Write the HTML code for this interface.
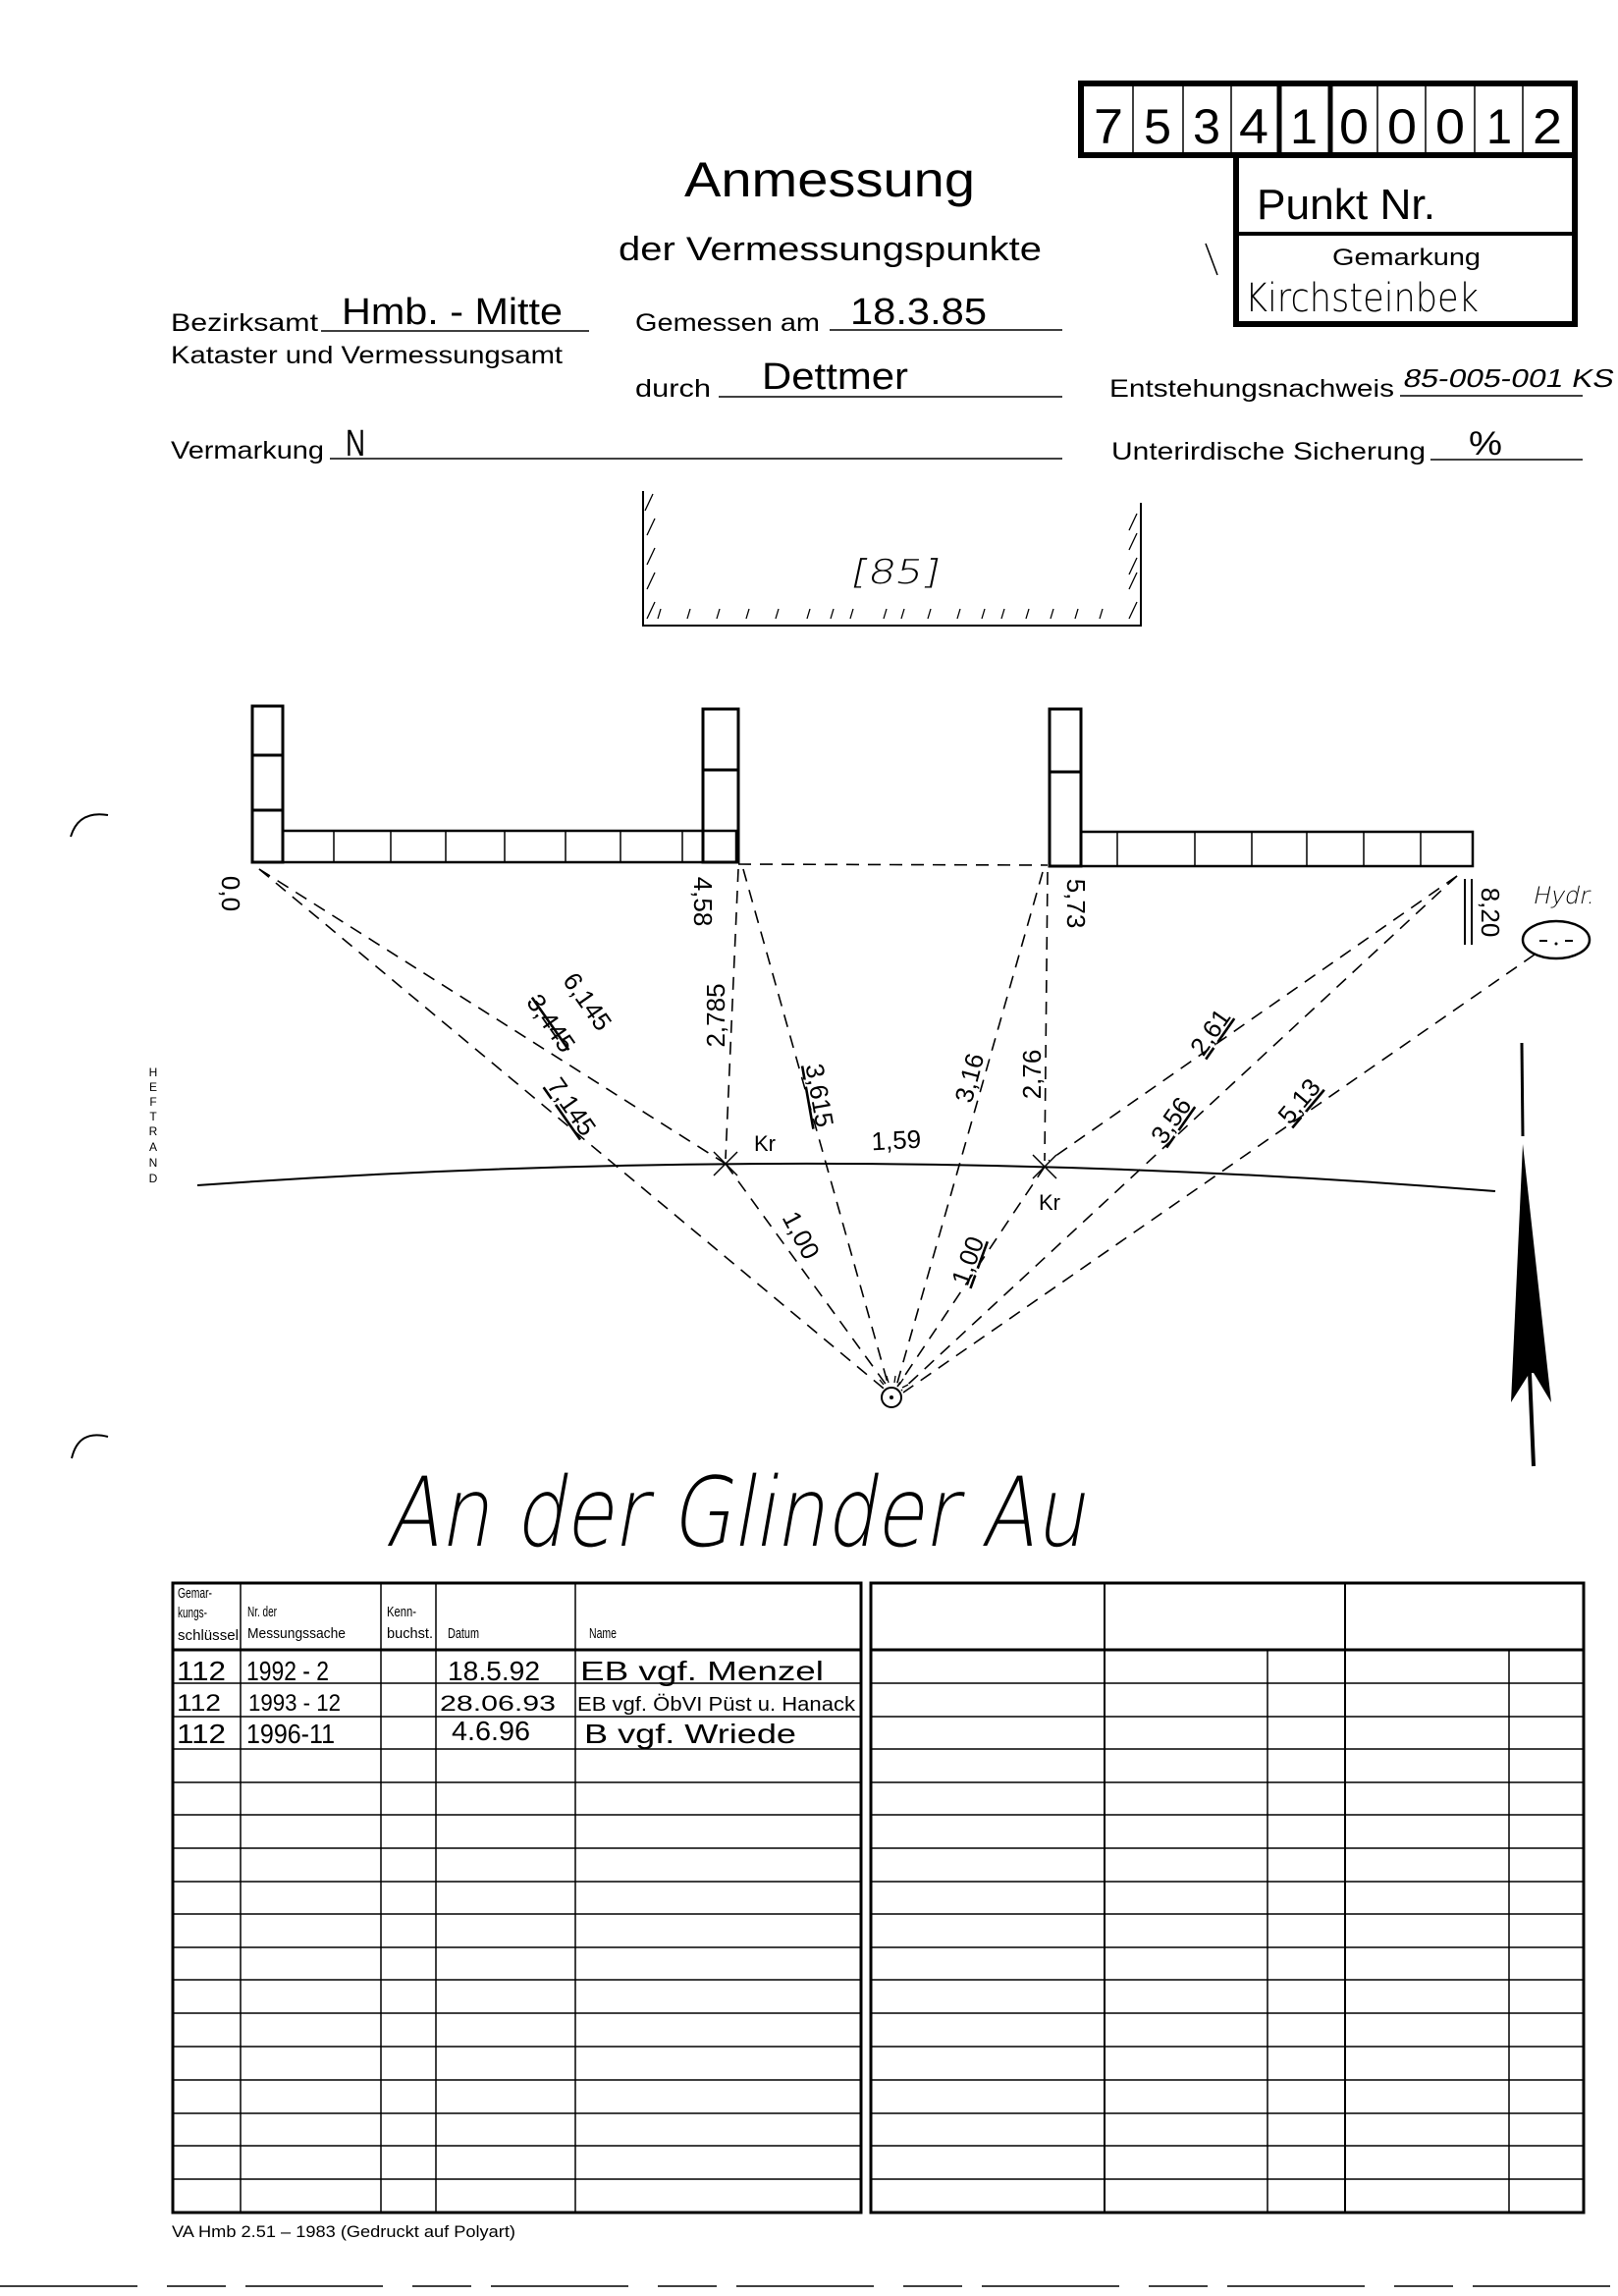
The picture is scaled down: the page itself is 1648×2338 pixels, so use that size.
<!DOCTYPE html>
<html><head><meta charset="utf-8"><style>
html,body{margin:0;padding:0;background:#fff}
svg{display:block}
text{font-family:"Liberation Sans",sans-serif;fill:#000}
.h{font-family:"DejaVu Sans ExtraLight","DejaVu Sans","Liberation Sans",sans-serif;font-weight:200}
</style></head><body>
<svg width="1648" height="2338" viewBox="0 0 1648 2338" xmlns="http://www.w3.org/2000/svg">
<rect width="1648" height="2338" fill="#fff"/>
<g stroke="#000" fill="none">
<rect x="1101" y="85" width="503" height="73" stroke-width="6"/>
<rect x="1259" y="158" width="345" height="172" stroke-width="6"/>
<line x1="1259" y1="238" x2="1604" y2="238" stroke-width="4"/>
<g stroke-width="1.5">
<line x1="1154" y1="88" x2="1154" y2="156"/><line x1="1205" y1="88" x2="1205" y2="156"/><line x1="1254" y1="88" x2="1254" y2="156"/>
<line x1="1403" y1="88" x2="1403" y2="156"/><line x1="1452" y1="88" x2="1452" y2="156"/><line x1="1502" y1="88" x2="1502" y2="156"/><line x1="1551" y1="88" x2="1551" y2="156"/>
</g>
<line x1="1303" y1="88" x2="1303" y2="156" stroke-width="5"/>
<line x1="1355" y1="88" x2="1355" y2="156" stroke-width="5"/>
<line x1="1228" y1="248" x2="1240" y2="280" stroke-width="1.5"/>
</g>
<g class="h" font-size="50">
<text x="1114" y="146" textLength="30" lengthAdjust="spacingAndGlyphs">7</text>
<text x="1165" y="146" textLength="28" lengthAdjust="spacingAndGlyphs">5</text>
<text x="1215" y="146" textLength="28" lengthAdjust="spacingAndGlyphs">3</text>
<text x="1262" y="146" textLength="30" lengthAdjust="spacingAndGlyphs">4</text>
<text x="1314" y="146" textLength="28" lengthAdjust="spacingAndGlyphs">1</text>
<text x="1364" y="146" textLength="30" lengthAdjust="spacingAndGlyphs">0</text>
<text x="1413" y="146" textLength="30" lengthAdjust="spacingAndGlyphs">0</text>
<text x="1462" y="146" textLength="30" lengthAdjust="spacingAndGlyphs">0</text>
<text x="1514" y="146" textLength="26" lengthAdjust="spacingAndGlyphs">1</text>
<text x="1561" y="146" textLength="30" lengthAdjust="spacingAndGlyphs">2</text>
</g>
<text x="1280" y="223" font-size="44" textLength="182" lengthAdjust="spacingAndGlyphs">Punkt Nr.</text>
<text x="1357" y="270" font-size="24" textLength="151" lengthAdjust="spacingAndGlyphs">Gemarkung</text>
<text class="h" x="1268" y="317" font-size="40" textLength="238" lengthAdjust="spacingAndGlyphs">Kirchsteinbek</text>

<text x="845" y="200" font-size="50" text-anchor="middle" textLength="296" lengthAdjust="spacingAndGlyphs">Anmessung</text>
<text x="630" y="265" font-size="34" textLength="431" lengthAdjust="spacingAndGlyphs">der Vermessungspunkte</text>

<g font-size="25">
<text x="174" y="337" textLength="150" lengthAdjust="spacingAndGlyphs">Bezirksamt</text>
<text x="174" y="370" textLength="399" lengthAdjust="spacingAndGlyphs">Kataster und Vermessungsamt</text>
<text x="647" y="337" textLength="188" lengthAdjust="spacingAndGlyphs">Gemessen am</text>
<text x="647" y="404" textLength="77" lengthAdjust="spacingAndGlyphs">durch</text>
<text x="1130" y="404" textLength="290" lengthAdjust="spacingAndGlyphs">Entstehungsnachweis</text>
<text x="174" y="467" textLength="156" lengthAdjust="spacingAndGlyphs">Vermarkung</text>
<text x="1132" y="468" textLength="320" lengthAdjust="spacingAndGlyphs">Unterirdische Sicherung</text>
</g>
<g stroke="#000" stroke-width="1.5">
<line x1="327" y1="337" x2="600" y2="337"/>
<line x1="845" y1="336" x2="1082" y2="336"/>
<line x1="732" y1="404" x2="1082" y2="404"/>
<line x1="1426" y1="403" x2="1612" y2="403"/>
<line x1="336" y1="467" x2="1082" y2="467"/>
<line x1="1457" y1="468" x2="1612" y2="468"/>
</g>
<g class="h">
<text x="348" y="330" font-size="38" textLength="225" lengthAdjust="spacingAndGlyphs">Hmb. - Mitte</text>
<text x="866" y="330" font-size="38" textLength="139" lengthAdjust="spacingAndGlyphs">18.3.85</text>
<text x="776" y="396" font-size="38" textLength="149" lengthAdjust="spacingAndGlyphs">Dettmer</text>
<text x="1428" y="394" font-size="26" transform="skewX(-12) translate(84,0)" textLength="214" lengthAdjust="spacingAndGlyphs">85-005-001 KS</text>
<text x="352" y="464" font-size="38" textLength="20" lengthAdjust="spacingAndGlyphs">N</text>
<text x="1496" y="463" font-size="34" textLength="34" lengthAdjust="spacingAndGlyphs">%</text>
</g>

<g stroke="#000" fill="none" stroke-width="2">
<polyline points="655,500 655,637 1162,637 1162,512"/>
<g stroke-width="1.3">
<line x1="657" y1="520" x2="665" y2="503"/><line x1="659" y1="545" x2="667" y2="528"/><line x1="659" y1="575" x2="667" y2="558"/><line x1="659" y1="600" x2="667" y2="583"/><line x1="659" y1="630" x2="667" y2="613"/>
<line x1="1150" y1="540" x2="1158" y2="523"/><line x1="1150" y1="560" x2="1158" y2="543"/><line x1="1150" y1="585" x2="1158" y2="568"/><line x1="1150" y1="600" x2="1158" y2="583"/><line x1="1150" y1="630" x2="1158" y2="613"/>
<line x1="670" y1="630" x2="673" y2="620"/><line x1="700" y1="630" x2="703" y2="620"/><line x1="730" y1="630" x2="733" y2="620"/><line x1="760" y1="630" x2="763" y2="620"/><line x1="790" y1="630" x2="793" y2="620"/><line x1="822" y1="630" x2="825" y2="620"/><line x1="846" y1="630" x2="849" y2="620"/><line x1="866" y1="630" x2="869" y2="620"/><line x1="900" y1="630" x2="903" y2="620"/><line x1="918" y1="630" x2="921" y2="620"/><line x1="945" y1="630" x2="948" y2="620"/><line x1="975" y1="630" x2="978" y2="620"/><line x1="1000" y1="630" x2="1003" y2="620"/><line x1="1020" y1="630" x2="1023" y2="620"/><line x1="1045" y1="630" x2="1048" y2="620"/><line x1="1070" y1="630" x2="1073" y2="620"/><line x1="1095" y1="630" x2="1098" y2="620"/><line x1="1120" y1="630" x2="1123" y2="620"/>
</g>
</g>
<text class="h" x="866" y="594" font-size="34" transform="skewX(-12) translate(126,0)" textLength="89" lengthAdjust="spacingAndGlyphs">[85]</text>

<g stroke="#000" fill="none" stroke-width="1.5">
<rect x="257" y="719" width="31" height="159" stroke-width="3"/>
<line x1="257" y1="769" x2="288" y2="769" stroke-width="3"/><line x1="257" y1="825" x2="288" y2="825" stroke-width="3"/>
<rect x="288" y="846" width="462" height="32" stroke-width="2.5"/>
<line x1="340" y1="846" x2="340" y2="878"/><line x1="398" y1="846" x2="398" y2="878"/><line x1="454" y1="846" x2="454" y2="878"/><line x1="514" y1="846" x2="514" y2="878"/><line x1="576" y1="846" x2="576" y2="878"/><line x1="632" y1="846" x2="632" y2="878"/><line x1="695" y1="846" x2="695" y2="878"/>
<rect x="716" y="722" width="36" height="156" stroke-width="3"/>
<line x1="716" y1="784" x2="752" y2="784" stroke-width="3"/>
<rect x="1069" y="722" width="32" height="160" stroke-width="3"/>
<line x1="1069" y1="786" x2="1101" y2="786" stroke-width="3"/>
<rect x="1101" y="847" width="399" height="35" stroke-width="2.5"/>
<line x1="1138" y1="847" x2="1138" y2="882"/><line x1="1217" y1="847" x2="1217" y2="882"/><line x1="1275" y1="847" x2="1275" y2="882"/><line x1="1331" y1="847" x2="1331" y2="882"/><line x1="1389" y1="847" x2="1389" y2="882"/><line x1="1447" y1="847" x2="1447" y2="882"/>
<line x1="1492" y1="895" x2="1492" y2="962" stroke-width="2"/><line x1="1499" y1="895" x2="1499" y2="962" stroke-width="2"/>
</g>

<g stroke="#000" stroke-width="1.6" stroke-dasharray="13 9" fill="none">
<line x1="752" y1="880" x2="1067" y2="881"/>
<line x1="264" y1="885" x2="739" y2="1185"/>
<line x1="264" y1="885" x2="905" y2="1418"/>
<line x1="752" y1="885" x2="739" y2="1180"/>
<line x1="757" y1="885" x2="906" y2="1415"/>
<line x1="1062" y1="888" x2="912" y2="1415"/>
<line x1="1067" y1="888" x2="1064" y2="1182"/>
<line x1="1484" y1="892" x2="1068" y2="1182"/>
<line x1="1484" y1="892" x2="918" y2="1416"/>
<line x1="1563" y1="972" x2="920" y2="1418"/>
<line x1="739" y1="1185" x2="904" y2="1412"/>
<line x1="1064" y1="1188" x2="914" y2="1412"/>
</g>
<path d="M201,1207 Q860,1160 1523,1213" stroke="#000" stroke-width="2" fill="none"/>
<g stroke="#000" stroke-width="1.5">
<line x1="727" y1="1173" x2="751" y2="1197"/><line x1="751" y1="1173" x2="727" y2="1197"/>
<line x1="1052" y1="1176" x2="1076" y2="1200"/><line x1="1076" y1="1176" x2="1052" y2="1200"/>
</g>
<circle cx="908" cy="1423" r="10" stroke="#000" stroke-width="2" fill="#fff"/>
<circle cx="908" cy="1423" r="2" fill="#000"/>
<g stroke="#000" stroke-width="1.3">
<line x1="896" y1="1405" x2="900" y2="1410"/><line x1="903" y1="1401" x2="905" y2="1408"/><line x1="912" y1="1401" x2="911" y2="1408"/><line x1="920" y1="1404" x2="916" y2="1410"/><line x1="925" y1="1410" x2="919" y2="1413"/>
</g>
<ellipse cx="1585" cy="957" rx="34" ry="19" stroke="#000" stroke-width="2.5" fill="none"/>
<g stroke="#000" stroke-width="2"><line x1="1568" y1="958" x2="1576" y2="958"/><line x1="1594" y1="958" x2="1602" y2="958"/></g>
<circle cx="1585" cy="961" r="1.5" fill="#000"/>
<text class="h" x="1560" y="920" font-size="24" transform="skewX(-12) translate(196,0)">Hydr.</text>

<line x1="1550" y1="1062" x2="1551" y2="1157" stroke="#000" stroke-width="3"/>
<polygon points="1551,1165 1580,1428 1562,1398 1558,1398 1539,1428" fill="#000"/>
<line x1="1558" y1="1398" x2="1562" y2="1493" stroke="#000" stroke-width="4"/>

<g class="h" font-size="26">
<text transform="translate(226,910) rotate(90)" text-anchor="middle">0,0</text>
<text transform="translate(707,918) rotate(90)" text-anchor="middle">4,58</text>
<text transform="translate(1087,920) rotate(90)" text-anchor="middle">5,73</text>
<text transform="translate(1509,929) rotate(90)" text-anchor="middle">8,20</text>
<text transform="translate(591,1025) rotate(55)" text-anchor="middle">6,145</text>
<text transform="translate(554,1047) rotate(55)" text-anchor="middle" text-decoration="line-through">3,445</text>
<text transform="translate(575,1132) rotate(55)" text-anchor="middle" text-decoration="underline">7,145</text>
<text transform="translate(738,1034) rotate(-90)" text-anchor="middle">2,785</text>
<text transform="translate(826,1117) rotate(80)" text-anchor="middle" text-decoration="underline">3,615</text>
<text x="913" y="1170" text-anchor="middle" transform="rotate(-3 913 1165)">1,59</text>
<text transform="translate(996,1100) rotate(-75)" text-anchor="middle">3,16</text>
<text transform="translate(1060,1094) rotate(-90)" text-anchor="middle">2,76</text>
<text transform="translate(1240,1056) rotate(-55)" text-anchor="middle" text-decoration="underline">2,61</text>
<text transform="translate(1200,1146) rotate(-55)" text-anchor="middle" text-decoration="underline">3,56</text>
<text transform="translate(1330,1127) rotate(-50)" text-anchor="middle" text-decoration="underline">5,13</text>
<text transform="translate(808,1262) rotate(62)" text-anchor="middle">1,00</text>
<text transform="translate(994,1287) rotate(-70)" text-anchor="middle" text-decoration="underline">1,00</text>
<text x="768" y="1172" font-size="22">Kr</text>
<text x="1058" y="1232" font-size="22">Kr</text>
</g>

<g font-size="12" text-anchor="middle">
<text x="156" y="1096">H</text><text x="156" y="1111">E</text><text x="156" y="1126">F</text><text x="156" y="1141">T</text><text x="156" y="1156">R</text><text x="156" y="1172">A</text><text x="156" y="1188">N</text><text x="156" y="1204">D</text>
</g>
<g stroke="#000" stroke-width="2" fill="none">
<path d="M72,852 Q80,825 110,830"/>
<path d="M73,1485 Q80,1455 110,1463"/>
</g>

<text class="h" x="393" y="1574" font-size="98" transform="skewX(-10) translate(277,0)" textLength="712" lengthAdjust="spacingAndGlyphs">An der Glinder Au</text>

<g stroke="#000" fill="none" stroke-width="1.5">
<rect x="176" y="1612" width="701" height="641" stroke-width="3"/>
<rect x="887" y="1612" width="726" height="641" stroke-width="3"/>
<line x1="176" y1="1680" x2="877" y2="1680" stroke-width="3"/>
<line x1="887" y1="1680" x2="1613" y2="1680" stroke-width="3"/>
<line x1="245" y1="1612" x2="245" y2="2253"/><line x1="388" y1="1612" x2="388" y2="2253"/><line x1="444" y1="1612" x2="444" y2="2253"/><line x1="586" y1="1612" x2="586" y2="2253"/>
<line x1="1125" y1="1612" x2="1125" y2="2253" stroke-width="2"/><line x1="1370" y1="1612" x2="1370" y2="2253" stroke-width="2"/>
<line x1="1291" y1="1680" x2="1291" y2="2253"/><line x1="1537" y1="1680" x2="1537" y2="2253"/>
<path d="M176,1714H877M176,1748H877M176,1781H877M176,1815H877M176,1848H877M176,1882H877M176,1916H877M176,1949H877M176,1983H877M176,2016H877M176,2050H877M176,2084H877M176,2118H877M176,2152H877M176,2185H877M176,2219H877"/>
<path d="M887,1714H1613M887,1748H1613M887,1781H1613M887,1815H1613M887,1848H1613M887,1882H1613M887,1916H1613M887,1949H1613M887,1983H1613M887,2016H1613M887,2050H1613M887,2084H1613M887,2118H1613M887,2152H1613M887,2185H1613M887,2219H1613"/>
</g>
<g font-size="15">
<text x="181" y="1627" textLength="35" lengthAdjust="spacingAndGlyphs">Gemar-</text>
<text x="181" y="1647" textLength="30" lengthAdjust="spacingAndGlyphs">kungs-</text>
<text x="181" y="1670" textLength="62" lengthAdjust="spacingAndGlyphs">schlüssel</text>
<text x="252" y="1646" textLength="30" lengthAdjust="spacingAndGlyphs">Nr. der</text>
<text x="252" y="1668" textLength="100" lengthAdjust="spacingAndGlyphs">Messungssache</text>
<text x="394" y="1646" textLength="30" lengthAdjust="spacingAndGlyphs">Kenn-</text>
<text x="394" y="1668" textLength="47" lengthAdjust="spacingAndGlyphs">buchst.</text>
<text x="456" y="1668" textLength="32" lengthAdjust="spacingAndGlyphs">Datum</text>
<text x="600" y="1668" textLength="28" lengthAdjust="spacingAndGlyphs">Name</text>
</g>
<g class="h">
<text x="180" y="1711" font-size="28" textLength="50" lengthAdjust="spacingAndGlyphs">112</text>
<text x="251" y="1711" font-size="28" textLength="84" lengthAdjust="spacingAndGlyphs">1992 - 2</text>
<text x="456" y="1711" font-size="28" textLength="94" lengthAdjust="spacingAndGlyphs">18.5.92</text>
<text x="591" y="1711" font-size="28" textLength="248" lengthAdjust="spacingAndGlyphs">EB vgf. Menzel</text>
<text x="180" y="1742" font-size="24" textLength="45" lengthAdjust="spacingAndGlyphs">112</text>
<text x="253" y="1742" font-size="24" textLength="94" lengthAdjust="spacingAndGlyphs">1993 - 12</text>
<text x="448" y="1742" font-size="22" textLength="118" lengthAdjust="spacingAndGlyphs">28.06.93</text>
<text x="588" y="1742" font-size="20" textLength="283" lengthAdjust="spacingAndGlyphs">EB vgf. ÖbVI Püst u. Hanack</text>
<text x="180" y="1775" font-size="28" textLength="50" lengthAdjust="spacingAndGlyphs">112</text>
<text x="251" y="1775" font-size="28" textLength="90" lengthAdjust="spacingAndGlyphs">1996-11</text>
<text x="460" y="1772" font-size="28" textLength="80" lengthAdjust="spacingAndGlyphs">4.6.96</text>
<text x="595" y="1775" font-size="28" textLength="216" lengthAdjust="spacingAndGlyphs">B vgf. Wriede</text>
</g>
<text x="175" y="2278" font-size="17" textLength="350" lengthAdjust="spacingAndGlyphs">VA Hmb 2.51 – 1983 (Gedruckt auf Polyart)</text>
<line x1="0" y1="2328" x2="1648" y2="2328" stroke="#000" stroke-width="1.5" stroke-dasharray="140 30 60 20"/>
</svg>
</body></html>
